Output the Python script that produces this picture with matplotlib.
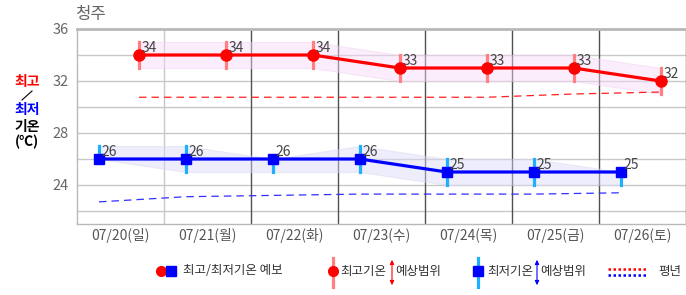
import matplotlib
matplotlib.use("Agg")
import matplotlib.pyplot as plt
from matplotlib.lines import Line2D
import numpy as np

plt.rcParams['font.family'] = ['Noto Sans CJK KR', 'DejaVu Sans']

# ---------------- data ----------------
city = "청주"
dates = ["07/20(일)", "07/21(월)", "07/22(화)", "07/23(수)", "07/24(목)", "07/25(금)", "07/26(토)"]
tmax = [34, 34, 34, 33, 33, 33, 32]
tmax_lo = [33, 33, 33, 32, 32, 32, 31]
tmax_hi = [35, 35, 35, 34, 34, 34, 33]
tmin = [26, 26, 26, 26, 25, 25, 25]
tmin_lo = [26, 25, 25, 25, 24, 24, 24]
tmin_hi = [27, 27, 26, 27, 26, 26, 25]
norm_max = [30.75, 30.75, 30.75, 30.75, 30.75, 31.0, 31.15]
norm_min = [22.7, 23.1, 23.2, 23.3, 23.3, 23.3, 23.4]
yticks = [24, 28, 32, 36]

W, H = 686, 295
fig = plt.figure(figsize=(W / 100, H / 100), dpi=100)
ax = fig.add_axes([77 / W, (H - 224) / H, (685.5 - 77) / W, (224 - 29) / H])

n = len(dates)
idx = np.arange(n)
hx = idx + 0.713
lx = idx + 0.253

ax.set_xlim(0, n)
ax.set_ylim(21, 36)

# grid
for y in range(22, 36, 2):
    ax.axhline(y, color='#C8C8C8', lw=1.0, zorder=0.5)
for i in range(1, n):
    ax.axvline(i, color='#C8C8C8' if i == 1 else '#505050', lw=1.0, zorder=0.6)

for s in ['left', 'bottom']:
    ax.spines[s].set_color('#B8B8B8')
    ax.spines[s].set_linewidth(1.0)
ax.spines['top'].set_color('#B8B8B8')
ax.spines['top'].set_linewidth(2.0)
ax.spines['right'].set_color('#505050')
ax.spines['right'].set_linewidth(1.0)

# bands
ax.fill_between(hx, tmax_lo, tmax_hi, color='#F7D8F7', alpha=0.45, lw=0.8, edgecolor='#F0D0F0', zorder=1)
ax.fill_between(lx, tmin_lo, tmin_hi, color='#D8D8F7', alpha=0.45, lw=0.8, edgecolor='#D8D8F0', zorder=1)

# normals
ax.plot(hx, norm_max, color='#FF2020', lw=0.9, ls=(0, (6, 4)), zorder=2)
ax.plot(lx, norm_min, color='#3030FF', lw=0.9, ls=(0, (6, 4)), zorder=2)

# range bars
ax.vlines(hx, tmax_lo, tmax_hi, colors='#FF8080', lw=2.3, capstyle='projecting', zorder=3)
ax.vlines(lx, tmin_lo, tmin_hi, colors='#1EB0FF', lw=2.3, capstyle='projecting', zorder=3)

# forecast lines
ax.plot(hx, tmax, color='#FF0000', lw=2.3, marker='o', ms=8, zorder=4)
ax.plot(lx, tmin, color='#0000FF', lw=2.3, marker='s', ms=7.5, zorder=4)

for x, v in zip(hx, tmax):
    ax.annotate(str(v), (x, v), xytext=(2, 5), textcoords='offset points',
                ha='left', va='center', fontsize=10, color='#444444', zorder=6)
for x, v in zip(lx, tmin):
    ax.annotate(str(v), (x, v), xytext=(2, 5), textcoords='offset points',
                ha='left', va='center', fontsize=10, color='#444444', zorder=6)

ax.set_yticks(yticks)
ax.set_yticklabels([str(t) for t in yticks], fontsize=10.5, color='#666666')
ax.set_xticks(idx + 0.5)
ax.set_xticklabels(dates, fontsize=10, color='#555555')
ax.tick_params(length=0, pad=6)
ax.tick_params(axis='x', pad=3)

def fx(x):
    return x / W

def fy(y):
    return 1 - y / H

# title
fig.text(fx(75), fy(15), city, fontsize=12, color='#666666', ha='left', va='center')

# y label
fig.text(fx(27), fy(82), "최고", fontsize=10, color='#FF0000', fontweight='bold', ha='center', va='center')
fig.add_artist(Line2D([fx(22), fx(32)], [fy(100), fy(91)], color='black', lw=0.8, transform=fig.transFigure))
fig.text(fx(27), fy(110), "최저", fontsize=10, color='#0000FF', fontweight='bold', ha='center', va='center')
fig.text(fx(27), fy(127), "기온", fontsize=10, color='black', fontweight='bold', ha='center', va='center')
fig.text(fx(27), fy(142), "(℃)", fontsize=10, color='black', fontweight='bold', ha='center', va='center')

# legend
ly = 271
T = fig.transFigure
fs = 9.0
fig.add_artist(Line2D([fx(161)], [fy(ly)], marker='o', ms=7, color='#FF0000', ls='none', transform=T))
fig.add_artist(Line2D([fx(171)], [fy(ly)], marker='s', ms=6.5, color='#0000FF', ls='none', transform=T))
fig.text(fx(183), fy(ly), "최고/최저기온 예보", fontsize=fs, color='#333333', ha='left', va='center')

fig.add_artist(Line2D([fx(333), fx(333)], [fy(258), fy(287)], color='#FF8080', lw=2.3, transform=T))
fig.add_artist(Line2D([fx(333)], [fy(ly)], marker='o', ms=7, color='#FF0000', ls='none', transform=T))
fig.text(fx(340), fy(ly), "최고기온", fontsize=fs, color='#333333', ha='left', va='center')
fig.text(fx(395), fy(ly), "예상범위", fontsize=fs, color='#333333', ha='left', va='center')
fig.add_artist(plt.Annotation('', xy=(fx(392), fy(288)), xytext=(fx(392), fy(257)),
                              xycoords=T, textcoords=T,
                              arrowprops=dict(arrowstyle='<|-|>,head_length=0.25,head_width=0.12',
                                              color='#FF0000', lw=0.8)))

fig.add_artist(Line2D([fx(478), fx(478)], [fy(258), fy(287)], color='#1EB0FF', lw=2.3, transform=T))
fig.add_artist(Line2D([fx(478)], [fy(ly)], marker='s', ms=6.5, color='#0000FF', ls='none', transform=T))
fig.text(fx(487), fy(ly), "최저기온", fontsize=fs, color='#333333', ha='left', va='center')
fig.text(fx(540), fy(ly), "예상범위", fontsize=fs, color='#333333', ha='left', va='center')
fig.add_artist(plt.Annotation('', xy=(fx(537), fy(288)), xytext=(fx(537), fy(257)),
                              xycoords=T, textcoords=T,
                              arrowprops=dict(arrowstyle='<|-|>,head_length=0.25,head_width=0.12',
                                              color='#0000FF', lw=0.8)))

fig.add_artist(Line2D([fx(608), fx(647)], [fy(269), fy(269)], color='#FF0000', lw=1.8, ls=(0, (1.0, 1.0)), transform=T))
fig.add_artist(Line2D([fx(608), fx(647)], [fy(275), fy(275)], color='#0000FF', lw=1.8, ls=(0, (1.0, 1.0)), transform=T))
fig.text(fx(658), fy(ly), "평년", fontsize=fs, color='#333333', ha='left', va='center')

fig.savefig("out.png", dpi=100)
